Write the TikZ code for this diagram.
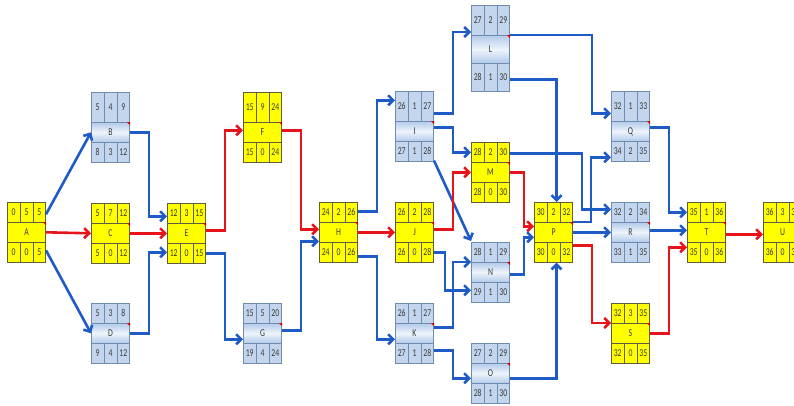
\documentclass[tikz,border=0pt]{standalone}
\usepackage{fontspec}
\setmainfont{Carlito}
\usetikzlibrary{arrows.meta}
\definecolor{ylw}{HTML}{FFFF00}
\definecolor{ylwline}{HTML}{5F5F40}
\definecolor{bcell}{HTML}{C3D6EE}
\definecolor{bmidA}{HTML}{B2CAEA}
\definecolor{bmidB}{HTML}{EEF4FB}
\definecolor{bline}{HTML}{6F8BB0}
\definecolor{arrb}{HTML}{1F5BC6}
\definecolor{arrr}{HTML}{E8141C}
\definecolor{txt}{HTML}{3A3A3A}
\newcommand\sq[1]{\scalebox{0.74}[1]{#1}}
\tikzset{
  cellY/.style={draw=ylwline, fill=ylw, line width=0.6pt, inner sep=0pt, anchor=north west, text=txt, font=\fontsize{10.5}{12}\selectfont},
  cellB/.style={draw=bline, fill=bcell, line width=0.6pt, inner sep=0pt, anchor=north west, text=txt, font=\fontsize{10.5}{12}\selectfont},
  midY/.style={cellY},
  midB/.style={cellB, top color=bmidA, bottom color=bmidA, middle color=bmidB},
  bl/.style={draw=arrb, line width=2.6pt, -{Straight Barb[length=5pt,width=10pt]}},
  rd/.style={draw=arrr, line width=2.6pt, -{Straight Barb[length=5pt,width=10pt]}},
}
% #1 name, #2 x, #3 y, #4 type (Y/B), #5 top row height, #6 middle/bottom height
\newcommand\act[6]{\def\An{#1}\def\Ax{#2}\def\Ay{#3}\def\Ah{#5}\def\Bh{#6}%
  \tikzset{cur/.style={cell#4}, curmid/.style={mid#4}}\actrest}
\newcommand\actrest[7]{%
  \node[cur, minimum width=12.8pt, minimum height=\Ah pt] (\An-t1) at (\Ax,\Ay) {\sq{#1}};
  \node[cur, minimum width=12.8pt, minimum height=\Ah pt] (\An-t2) at (\Ax+12.8,\Ay) {\sq{#2}};
  \node[cur, minimum width=12.8pt, minimum height=\Ah pt] (\An-t3) at (\Ax+25.6,\Ay) {\sq{#3}};
  \node[curmid, minimum width=38.4pt, minimum height=\Bh pt] (\An) at (\Ax,\Ay+\Ah) {\sq{#4}};
  \node[cur, minimum width=12.8pt, minimum height=\Bh pt] (\An-b1) at (\Ax,\Ay+\Ah+\Bh) {\sq{#5}};
  \node[cur, minimum width=12.8pt, minimum height=\Bh pt] (\An-b2) at (\Ax+12.8,\Ay+\Ah+\Bh) {\sq{#6}};
  \node[cur, minimum width=12.8pt, minimum height=\Bh pt] (\An-b3) at (\Ax+25.6,\Ay+\Ah+\Bh) {\sq{#7}};
  \fill[red!85!black] (\An.north east) -- ++(-3.2,0) -- ++(3.2,3.2) -- cycle;
}
\begin{document}
\begin{tikzpicture}[x=1pt,y=-1pt]
\useasboundingbox (0,0) rectangle (794,405);
\clip (0,0) rectangle (794,405);
\act{A}{7}{202}{Y}{20}{20}{0}{5}{5}{A}{0}{0}{5}
\act{B}{91}{92}{B}{30}{20}{5}{4}{9}{B}{8}{3}{12}
\act{C}{91}{203}{Y}{20}{20}{5}{7}{12}{C}{5}{0}{12}
\act{D}{91}{303}{B}{20}{20}{5}{3}{8}{D}{9}{4}{12}
\act{E}{167}{203}{Y}{20}{20}{12}{3}{15}{E}{12}{0}{15}
\act{F}{243}{92}{Y}{30}{20}{15}{9}{24}{F}{15}{0}{24}
\act{G}{243}{303}{B}{20}{20}{15}{5}{20}{G}{19}{4}{24}
\act{H}{319}{202}{Y}{20}{20}{24}{2}{26}{H}{24}{0}{26}
\act{I}{395}{91}{B}{30}{20}{26}{1}{27}{I}{27}{1}{28}
\act{J}{395}{202}{Y}{20}{20}{26}{2}{28}{J}{26}{0}{28}
\act{K}{395}{303}{B}{20}{20}{26}{1}{27}{K}{27}{1}{28}
\act{L}{471}{5}{B}{30}{28}{27}{2}{29}{L}{28}{1}{30}
\act{M}{471}{142}{Y}{20}{20}{28}{2}{30}{M}{28}{0}{30}
\act{N}{471}{242}{B}{20}{20}{28}{1}{29}{N}{29}{1}{30}
\act{O}{471}{343}{B}{20}{20}{27}{2}{29}{O}{28}{1}{30}
\act{P}{534}{202}{Y}{20}{20}{30}{2}{32}{P}{30}{0}{32}
\act{Q}{611}{91}{B}{30}{20}{32}{1}{33}{Q}{34}{2}{35}
\act{R}{611}{202}{B}{20}{20}{32}{2}{34}{R}{33}{1}{35}
\act{S}{611}{303}{Y}{20}{20}{32}{3}{35}{S}{32}{0}{35}
\act{T}{687}{202}{Y}{20}{20}{35}{1}{36}{T}{35}{0}{36}
\act{U}{763}{202}{Y}{20}{20}{36}{3}{39}{U}{36}{0}{39}
% connectors
\draw[bl] ([yshift=-2pt]A-t3.east) -- (B.west);
\draw[rd] (A.east) -- (C.west);
\draw[bl] ([yshift=2pt]A-b3.east) -- (D.west);
\draw[bl] (B.east) -- ++(19,0) |- ([yshift=-3pt]E-t1.west);
\draw[rd] (C.east) -- (E.west);
\draw[bl] (D.east) -- ++(19,0) |- ([yshift=1pt]E-b1.west);
\draw[rd] ([yshift=3pt]E.east) -- ++(19,0) |- ([yshift=2pt]F.west);
\draw[bl] (E-b3.east) -- ++(19,0) |- ([yshift=-6pt]G.west);
\draw[rd] ([yshift=2pt]F.east) -- ++(19,0) |- ([yshift=3pt]H.west);
\draw[bl] ([yshift=3pt]G.east) -- ++(19,0) |- ([yshift=-9pt]H.west);
\draw[bl] ([yshift=1pt]H-t3.east) -- ++(19,0) |- ([yshift=6pt]I-t1.west);
\draw[rd] (H.east) -- (J.west);
\draw[bl] ([yshift=-4pt]H-b3.east) -- ++(19,0) |- ([yshift=-6pt]K.west);
\draw[bl] ([yshift=-7pt]I-t3.east) -- ++(19,0) |- ([yshift=3pt]L.north west);
\draw[bl] ([yshift=4pt]I.east) -- ++(19,0) |- (M-t1.west);
\draw[bl] ([yshift=1pt]I-b3.south east) -- ([yshift=1pt]N-t1.north west);
\draw[rd] ([yshift=3pt]J.east) -- ++(19,0) |- (M.west);
\draw[bl] (J-b3.east) -- ++(11,0) |- ([yshift=2pt]N-b1.west);
\draw[bl] ([yshift=6pt]K.east) -- ++(19,0) |- (N.north west);
\draw[bl] ([yshift=3pt]K-b3.east) -- ++(19,0) |- ([yshift=-5pt]O.west);
\draw[bl] (L.north east) -- ++(82,0) |- ([yshift=-7pt]Q-t1.west);
\draw[bl] ([yshift=-2pt]L-b3.east) -| ([xshift=3pt]P-t2.north);
\draw[bl] ([yshift=-1pt]M-t3.east) -- ++(72,0) |- ([yshift=3pt]R-t1.west);
\draw[rd] (M.east) -- ++(14,0) |- ([yshift=6pt]P.west);
\draw[bl] ([yshift=-2pt]N.east) -- ++(14,0) |- ([yshift=-5pt]P.west);
\draw[bl] ([yshift=-5pt]O.east) -| ([xshift=3pt]P-b2.south);
\draw[bl] (P.north east) -- ++(18,0) |- ([yshift=-6pt]Q-b1.west);
\draw[bl] (P.east) -- (R.west);
\draw[rd] ([yshift=-3pt]P.south east) -- ++(19,0) |- (S.north west);
\draw[bl] ([yshift=4pt]Q.east) -- ++(19,0) |- (T-t1.west);
\draw[bl] ([yshift=2pt]R.east) -- ([yshift=2pt]T.west);
\draw[rd] (S.east) -- ++(19,0) |- ([yshift=5pt]T-b1.west);
\draw[rd] ([yshift=-2pt]T.east) -- ([yshift=-2pt]U.west);
\end{tikzpicture}
\end{document}
